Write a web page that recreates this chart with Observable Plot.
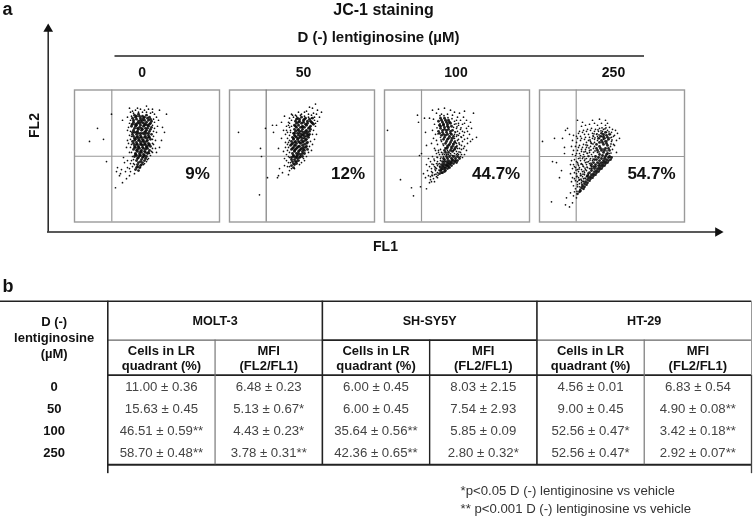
<!DOCTYPE html>
<html><head><meta charset="utf-8">
<script src="https://cdn.jsdelivr.net/npm/d3@7"></script>
<script src="https://cdn.jsdelivr.net/npm/@observablehq/plot@0.6"></script>
<style>
html,body{margin:0;padding:0;background:#fff}
#page{position:relative;width:753px;height:517px;overflow:hidden;font-family:"Liberation Sans",Arial,sans-serif}
#page>div{position:absolute;left:0}
#page svg{display:block;background:transparent;filter:blur(.4px)}
</style></head><body><div id="page"><div id="a"></div><div id="ann"></div><div id="t"></div></div>
<script>
// ---- panel a: estimated FL1 / FL2 readings (FL2 counted from the top of the plot) ----
const doses = ["0","50","100","250"];
const lrPercent = ["9%","12%","44.7%","54.7%"];
const gateFL1 = [37.3,36.7,37,36.7];
const gateFL2 = [65.7,65.7,65.7,66];
const core0 = [60,25,64,24,68,26,72,25,75,27,58,28,62,29,66,28,70,30,74,30,77,31,59,32,63,33,67,32,71,34,75,34,57,36,61,36,65,37,69,36,73,38,77,37,59,40,63,41,67,40,71,41,75,41,58,44,62,44,66,45,70,44,74,45,77,44,60,48,64,48,68,49,72,48,76,49,58,51,62,52,66,52,70,52,74,53,60,55,64,56,68,55,72,56,76,56,59,59,63,59,67,60,71,59,75,60,61,63,65,63,69,64,73,63,60,66,64,67,68,67,72,66,62,70,66,71,70,70,63,74,67,74,62,77,65,77,64,80,61,79,62,26,66,30,70,27,61,34,65,33,69,33,73,35,63,38,67,38,71,38,60,42,64,43,68,43,72,43,62,47,66,47,70,47,74,47,60,50,64,50,68,51,72,51,62,54,66,54,70,54,74,55,61,57,65,58,69,58,73,58,63,61,67,62,71,62,62,65,66,65,70,65,61,27,65,26,69,28,73,28,76,29,59,30,64,31,68,30,72,32,76,33,58,34,62,35,66,35,70,35,74,36,60,38,64,39,68,39,72,40,76,39,58,42,62,42,66,43,70,42,74,43,59,46,63,46,67,47,71,46,75,47,61,49,65,50,69,50,73,50,59,53,63,54,67,54,71,54,75,54,60,57,64,57,68,57,72,57,62,60,66,61,70,61,74,62,61,64,65,65,69,66,63,68,67,69,71,68,64,72,68,72,63,76,66,75];
const sparse0 = [15,51,23,38,29,49,37,24,32,71,41,97,42,81,43,77,46,83,50,72,49,67,52,88,48,92,55,85,53,77,45,85,72,16,85,20,92,24,78,22,63,18,55,18,48,30,53,27,88,37,90,42,87,50,85,57,82,62,83,36,53,50,52,57,55,62,53,40,56,22,58,21,61,20,66,19,70,20,74,19,78,19,80,24,82,27,84,30,80,32,55,33,54,37,56,41,80,38,82,42,79,46,81,50,55,45,56,49,54,53,56,57,79,54,81,58,78,62,76,65,74,68,57,62,58,66,57,70,59,73,72,71,69,74,66,77,60,83,56,81,58,76,79,29,78,35,79,41,78,49,78,53,78,58,57,26,56,30,57,34,57,46,57,54,59,23,64,22,68,22,72,22,76,23,59,69,60,74,56,73,53,70,51,81,47,79,55,78,70,73,73,69,75,63,77,61];
const core1 = [68,28,72,27,76,28,80,29,83,28,66,31,70,31,74,32,78,31,82,32,65,35,69,35,73,36,77,35,81,36,84,34,65,39,69,39,73,39,77,40,81,39,64,43,68,43,72,44,76,43,80,44,63,47,67,47,71,47,75,48,79,47,62,51,66,51,70,52,74,51,78,52,61,55,65,55,69,56,73,55,77,56,62,59,66,59,70,60,74,59,78,59,63,63,67,63,71,64,75,63,62,67,66,67,70,67,73,66,63,71,66,71,69,70,62,75,65,74,64,77,67,73,70,29,74,30,78,33,72,33,67,33,71,37,75,37,79,38,67,37,66,41,70,41,74,42,78,42,65,45,69,45,73,45,77,46,64,49,68,49,72,50,76,50,63,53,67,53,71,53,75,54,64,57,68,57,72,58,76,57,65,61,69,61,73,61,64,65,68,65,67,29,75,29,81,31,69,32,76,34,83,33,66,36,73,37,80,37,68,40,72,41,76,41,80,41,65,43,70,43,74,44,78,44,66,46,71,46,75,46,79,45,64,48,69,48,73,48,77,49,65,52,69,51,73,52,77,53,62,54,66,55,70,56,74,57,63,58,67,58,71,59,75,60,65,60,69,63,73,63,64,66,67,66,71,66,62,69,65,69,68,68,64,73,67,71];
const sparse1 = [9,42,36,38,31,58,32,66,38,87,30,104,43,35,47,35,52,32,44,42,55,26,52,48,49,58,54,61,57,40,59,35,57,70,55,75,50,78,53,82,49,85,48,87,59,84,86,14,92,22,80,17,75,22,63,25,83,18,88,20,87,24,85,27,90,27,88,31,86,36,84,40,87,44,83,44,85,49,81,51,83,54,80,56,82,60,79,62,77,66,60,28,62,30,59,32,60,37,58,42,61,40,60,45,58,48,56,52,59,52,56,57,58,60,57,64,59,66,55,68,59,72,58,76,60,80,69,22,72,24,66,25,77,21,79,24,82,25,84,23,74,68,75,70,72,72,70,74,56,44,54,40,57,36,62,24,64,27,67,26,71,25,75,26,79,27,82,28,85,30,86,33,60,33,62,36,61,42,60,50,58,54,59,57,60,62,60,67,61,72,60,76,62,78,65,78];
const core2 = [56,28,60,28,64,30,54,31,58,32,62,32,66,33,55,35,59,35,63,36,67,36,56,38,60,39,64,39,68,40,54,41,58,42,62,42,66,43,57,45,61,45,65,46,69,46,59,49,63,49,67,50,61,53,65,54,69,54,63,57,67,58,71,57,60,60,64,62,68,61,59,68,63,68,67,68,71,68,75,68,58,71,62,71,66,71,70,71,73,70,57,74,61,74,65,74,69,73,72,72,56,77,60,77,64,76,67,75,56,80,60,79,63,78,55,83,58,82,61,80,60,69,64,70,68,70,59,73,63,73,67,72,58,76,62,75,65,77,57,79,57,30,61,30,65,32,59,34,63,34,56,36,60,37,64,37,58,40,62,40,66,41,55,43,59,44,63,44,67,44,60,47,64,48,68,48,62,51,66,52,70,52,64,55,68,56,62,58,66,60,70,59,61,62,65,66,69,66,73,66,62,66,60,71,64,72,68,69,71,70,59,75,63,75,66,73,58,78,61,77,57,82,60,81];
const sparse2 = [3,40,33,25,34,32,16,89,27,97,29,105,36,96,42,98,39,83,35,65,37,63,40,28,45,28,41,42,42,55,47,53,89,23,92,47,48,20,54,19,60,18,66,20,70,22,75,23,80,21,52,23,57,24,63,24,68,25,73,27,79,27,49,29,50,34,48,40,51,44,49,48,52,50,53,54,50,58,54,60,52,63,56,59,48,66,44,68,46,71,42,74,50,70,53,67,45,76,49,74,43,80,47,81,51,77,44,85,48,85,53,82,41,87,46,89,50,91,45,92,53,87,72,30,76,30,82,30,86,32,70,34,74,35,78,34,84,36,72,38,76,39,82,38,87,38,71,42,75,43,80,42,85,44,72,46,77,47,83,48,88,49,73,50,78,51,83,53,71,52,75,54,80,56,86,51,73,58,77,59,82,60,72,61,76,62,80,64,74,64,56,47,57,51,59,55,61,58,63,60,57,62,60,64,64,64,68,65,72,64,55,64,59,66,56,68,53,71,55,73,53,75,52,78,76,66,78,67,70,31,74,33,80,33,69,37,73,41,78,41,83,41,70,44,74,45,79,45,70,48,74,49,80,49,72,53,77,55,72,56,75,58,79,58,69,60,73,63,77,64,70,63,66,63,62,64,58,64,54,62,51,60,56,70,52,73,50,76,47,78,55,76,51,80,48,82,55,80,50,84,46,86,52,86,49,88,47,91,55.5,25.5,59.5,25.5,63.5,27.5,67.5,28.5,71.5,33.5,55.5,33.5,52.5,37.5,53.5,43.5,56.5,49.5,58.5,53.5,60.5,57.5,62.5,55.5,66.5,47.5,70.5,41.5,72.5,36.5,76.5,37.5,72.5,44.5,76.5,46.5,70.5,50.5,74.5,52.5,68.5,53.5,72.5,55.5,66.5,56.5,70.5,58.5,74.5,61.5,58.5,62.5,62.5,63.5,66.5,64.5,70.5,65.5,74.5,66.5,56.5,66.5,52.5,66.5,49.5,68.5,47.5,73.5,50.5,78.5,53.5,73.5,55.5,75.5,54.5,79.5,53.5,84.5,51.5,83.5,47.5,84.5];
const core3 = [38,103,41,100,44,98,43,95,47,94,46,91,50,90,49,87,53,87,52,84,56,84,55,81,59,81,58,78,62,78,61,75,65,75,64,72,68,72,67,69,71,69,66,66,70,66,62,68,58,72,54,76,50,82,52,80,56,76,60,73,57,69,54,72,60,64,64,62,68,63,56,66,62,60,58,60,66,58,70,60,60,56,64,54,68,55,57,54,62,50,66,51,59,48,64,46,68,47,62,43,66,42,70,44,40,101,42,97,45,96,45,93,48,92,48,89,51,88,51,86,54,85,54,83,57,82,57,80,60,79,60,77,63,76,63,74,66,73,66,71,69,70,69,67,72,67,64,70,60,70,56,74,52,78,48,85,55,78,59,75,62,72,65,68,67,64,63,65,59,67,55,69,52,74,61,58,65,60,69,58,57,58,67,53,63,52,60,52,65,48,61,46,67,45,64,44,69,49];
const sparse3 = [3,51,15,48,13,71,17,72,22,80,20,87,12,111,27,107,26,114,30,116,33,112,31,102,28,38,26,40,30,44,23,48,25,57,25,63,38,30,43,32,53,30,60,29,66,30,68,33,78,43,80,48,75,55,77,62,42,36,46,35,50,34,55,33,58,35,62,33,66,35,70,37,73,39,76,40,40,41,44,40,48,39,52,38,56,39,60,38,64,39,68,40,72,42,75,45,34,45,37,46,41,46,45,44,49,44,53,43,57,44,72,47,77,50,33,50,37,52,41,50,45,49,49,50,53,48,72,51,74,54,71,56,32,56,36,56,40,55,44,54,48,55,52,53,55,52,34,60,38,60,42,59,46,59,50,60,54,58,73,59,33,64,36,65,40,63,44,64,48,63,52,64,70,63,32,70,35,69,39,68,43,68,47,68,51,68,31,74,34,74,38,72,42,73,46,72,50,73,33,78,36,77,40,77,44,76,48,77,52,76,31,83,35,82,39,81,43,81,47,80,33,87,37,86,41,85,45,84,32,91,36,90,40,89,44,88,48,85,34,95,38,94,42,92,36,98,40,96,35,101,34,105,37,107,39,43,43,42,47,41,51,40,55,41,59,41,63,41,67,42,71,44,74,46,38,48,42,48,46,47,50,47,54,46,58,46,62,46,47,52,51,51,55,49,58,50,60,48,64,49,39,57,43,57,47,57,51,56,55,56,42,61,46,61,50,62,54,62,58,62,37,63,41,65,45,66,49,66,53,66,37,71,41,70,45,70,49,71,53,70,35,76,39,75,43,74,47,74,51,75,38,79,42,79,46,79,50,78,37,83,41,83,45,82,49,84,35,88,39,87,43,86,47,86,38,91,42,90,46,88,40,93,44,91,38,96,41.5,88.5,43.5,83.5,45.5,77.5,47.5,71.5,49.5,65.5,51.5,59.5,53.5,53.5,55.5,47.5,57.5,43.5,61.5,40.5,65.5,38.5,69.5,41.5,43.5,75.5,45.5,68.5,47.5,62.5,49.5,57.5,51.5,52.5,53.5,45.5,59.5,44.5,63.5,47.5,67.5,50.5,71.5,53.5,55.5,60.5,59.5,61.5,63.5,58.5,67.5,60.5,71.5,62.5,53.5,68.5,50.5,69.5,47.5,76.5,44.5,80.5,41.5,84.5,39.5,89.5,42.5,93.5,45.5,87.5,48.5,82.5,51.5,72.5,48.5,65.5,44.5,61.5,40.5,67.5,38.5,73.5,36.5,79.5,37.5,85.5,39.5,78.5,41.5,73.5,43.5,66.5,46.5,54.5,50.5,49.5,54.5,43.5,58.5,39.5,62.5,37.5,66.5,37.5,70.5,47.5,72.5,49.5,40.5,98.5,37.5,100.5,43.5,90.5];
const panels = [core0,core1,core2,core3];
const strays = [sparse0,sparse1,sparse2,sparse3];

// ---- panel b: table values ----
const cellLines = ["MOLT-3","SH-SY5Y","HT-29"];
const subHeads = [["Cells in LR","quadrant (%)"],["MFI","(FL2/FL1)"]];
const doseHead = ["D (-)","lentiginosine","(µM)"];
const molt3Cells = ["11.00 ± 0.36","15.63 ± 0.45","46.51 ± 0.59**","58.70 ± 0.48**"];
const molt3Mfi = ["6.48 ± 0.23","5.13 ± 0.67*","4.43 ± 0.23*","3.78 ± 0.31**"];
const shCells = ["6.00 ± 0.45","6.00 ± 0.45","35.64 ± 0.56**","42.36 ± 0.65**"];
const shMfi = ["8.03 ± 2.15","7.54 ± 2.93","5.85 ± 0.09","2.80 ± 0.32*"];
const htCells = ["4.56 ± 0.01","9.00 ± 0.45","52.56 ± 0.47*","52.56 ± 0.47*"];
const htMfi = ["6.83 ± 0.54","4.90 ± 0.08**","3.42 ± 0.18**","2.92 ± 0.07**"];
const tableCols = [molt3Cells,molt3Mfi,shCells,shMfi,htCells,htMfi];

// ---- build ----
const toDots = (lists) => lists.flatMap((flat,p)=>d3.range(0,flat.length,2).map(i=>({dose:doses[p],fl1:flat[i],fl2:flat[i+1]})));
const panelFrame = doses.map((dose,i)=>({dose,gx:gateFL1[i],gy:gateFL2[i],label:lrPercent[i]}));
const doseLabelFL1 = [67.7,74,71.5,74], percentFL1 = [123,118.5,111.6,112];
const panelFont = {fontFamily:"Liberation Sans",fontWeight:"bold",fill:"#111"};

const panelPlot = Plot.plot({
  width:753,height:260,marginLeft:73,marginRight:69,marginTop:89.5,marginBottom:38.5,
  fx:{domain:doses,axis:null,paddingInner:.0677,paddingOuter:0},
  x:{domain:[0,145],axis:null},y:{domain:[131,0],axis:null},
  marks:[
    Plot.frame({stroke:"#9a9a9a",strokeWidth:1.4}),
    Plot.ruleX(panelFrame,{x:"gx",fx:"dose",stroke:(d)=>d.dose==="50"?"#7d7d7d":"#999",strokeWidth:1.2}),
    Plot.ruleY(panelFrame,{y:"gy",fx:"dose",stroke:"#999",strokeWidth:1.1}),
    Plot.dot(toDots(strays),{x:"fl1",y:"fl2",fx:"dose",r:.85,fill:"#111",stroke:"none"}),
    Plot.dot(toDots(panels),{x:"fl1",y:"fl2",fx:"dose",r:1.4,fill:"#0a0a0a",fillOpacity:.9,stroke:"none"}),
    Plot.text(panelFrame,{...panelFont,fx:"dose",text:"label",x:(d,i)=>percentFL1[i],y:()=>83,fontSize:17}),
    Plot.text(panelFrame,{...panelFont,fx:"dose",text:"dose",x:(d,i)=>doseLabelFL1[i],y:()=>-17.3,fontSize:14,clip:false})
  ]
});
document.getElementById("a").append(panelPlot);

// annotations above the panels
const annText = [
 {t:"a",x:2,y:9,s:18,w:"bold",a:"start"},
 {t:"JC-1 staining",x:383,y:9,s:16,w:"bold"},
 {t:"D (-) lentiginosine (µM)",x:378,y:37,s:15,w:"bold"},
 {t:"FL2",x:34,y:125,s:14,w:"bold",r:-90},
 {t:"FL1",x:385,y:246,s:14,w:"bold"},
 {t:"b",x:2,y:286,s:18,w:"bold",a:"start"},
 {t:"*p<0.05 D (-) lentiginosine vs vehicle",x:460,y:490,s:13.2,w:"normal",a:"start",f:"#333"},
 {t:"** p<0.001 D (-) lentiginosine vs vehicle",x:460,y:508,s:13.2,w:"normal",a:"start",f:"#333"}
];
const annPlot = Plot.plot({
  width:753,height:517,margin:0,x:{domain:[0,753],range:[0,753],axis:null},y:{domain:[0,517],range:[0,517],axis:null},
  marks:[
    Plot.ruleX([47.7],{y1:231.5,y2:30,stroke:"#222",strokeWidth:1.5}),
    Plot.ruleY([231.5],{x1:47,x2:716,stroke:"#222",strokeWidth:1.5}),
    Plot.ruleY([55.5],{x1:114.5,x2:644,stroke:"#222",strokeWidth:1.5}),
    Plot.dot([{x:47.7,y:28.5}],{x:"x",y:"y",symbol:"triangle",r:3.6,fill:"#111",stroke:"none"}),
    Plot.dot([{x:717.5,y:231.5}],{x:"x",y:"y",symbol:"triangle",r:3.6,rotate:90,fill:"#111",stroke:"none"}),
    ...annText.map(d=>Plot.text([d],{x:"x",y:"y",text:"t",fontSize:d.s,fontWeight:d.w,fontFamily:"Liberation Sans",textAnchor:d.a||"middle",rotate:d.r||0,fill:d.f||"#111"}))
  ]
});
const annBox=document.getElementById("ann");annBox.style.top="0";annBox.style.pointerEvents="none";annBox.append(annPlot);

// table: x counts columns, y counts dose rows
const rowTexts = [];
doses.forEach((d,r)=>{
  rowTexts.push({col:.5,row:r,t:d,bold:true});
  tableCols.forEach((c,i)=>rowTexts.push({col:i+1.5,row:r,t:c[r],bold:false}));
});
const headTexts = [];
doseHead.forEach((t,i)=>headTexts.push({col:.5,row:[-2.96,-2.25,-1.52][i],t,bold:true}));
cellLines.forEach((t,i)=>headTexts.push({col:2+2*i,row:-3,t,bold:true,size:12.6}));
tableCols.forEach((c,i)=>subHeads[i%2].forEach((t,k)=>headTexts.push({col:i+1.5,row:k?-.99:-1.66,t,bold:true})));
const hRules = [
 {row:-3.91,x1:0,x2:7,s:"#222",w:1.6},
 {row:-2.14,x1:1,x2:3,s:"#666",w:1.3},{row:-2.14,x1:3,x2:5,s:"#222",w:1.6},{row:-2.14,x1:5,x2:7,s:"#666",w:1.3},
 {row:-.55,x1:1,x2:7,s:"#222",w:1.6},
 {row:3.53,x1:1,x2:7,s:"#222",w:2}
];
const vRules = [
 {col:1,r1:-3.91,r2:3.93,s:"#222",w:1.6},{col:3,r1:-3.91,r2:3.53,s:"#222",w:1.6},{col:5,r1:-3.91,r2:3.53,s:"#222",w:1.6},
 {col:2,r1:-2.14,r2:3.53,s:"#777",w:1.2},{col:4,r1:-2.14,r2:3.53,s:"#222",w:1.4},{col:6,r1:-2.14,r2:3.53,s:"#777",w:1.2},
 {col:7,r1:-3.91,r2:-.55,s:"#999",w:1},{col:7,r1:-.55,r2:3.93,s:"#444",w:1.3}
];
const tablePlot = Plot.plot({
  width:753,height:247,margin:0,
  x:{domain:[0,7],range:[0,751],axis:null},
  y:{domain:[0,3],range:[116.7,182.7],axis:null},
  marks:[
    Plot.ruleY(hRules,{y:"row",x1:"x1",x2:"x2",stroke:"s",strokeWidth:"w"}),
    Plot.ruleX(vRules,{x:"col",y1:"r1",y2:"r2",stroke:"s",strokeWidth:"w"}),
    Plot.text(headTexts,{x:"col",y:"row",text:"t",fontSize:d=>d.size||13,fontWeight:"bold",fontFamily:"Liberation Sans",fill:"#111"}),
    Plot.text(rowTexts.filter(d=>d.bold),{x:"col",y:"row",text:"t",fontSize:13,fontWeight:"bold",fontFamily:"Liberation Sans",fill:"#111"}),
    Plot.text(rowTexts.filter(d=>!d.bold),{x:"col",y:"row",text:"t",fontSize:13.2,fontFamily:"Liberation Sans",fill:"#444"})
  ]
});
const tBox=document.getElementById("t");tBox.style.top="270px";tBox.append(tablePlot);
</script></body></html>
